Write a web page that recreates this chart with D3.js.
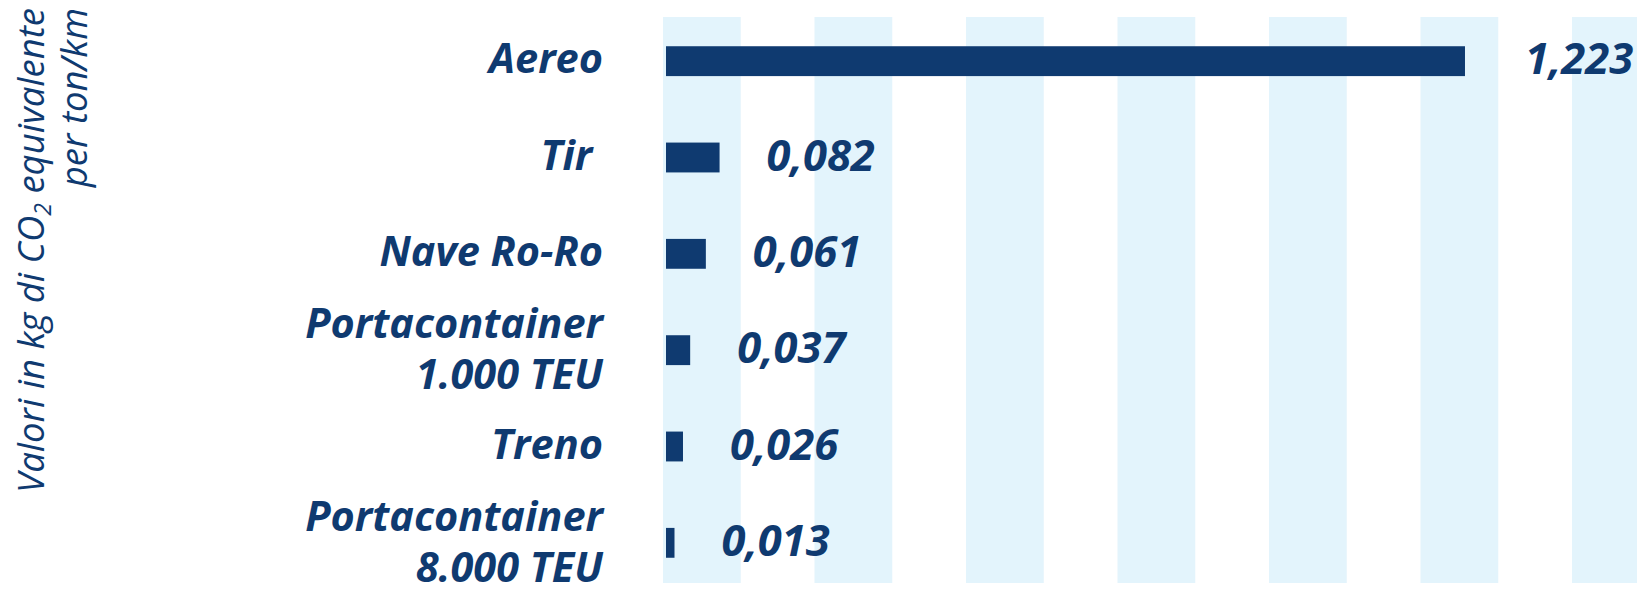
<!DOCTYPE html>
<html lang="it">
  <head>
    <meta charset="utf-8">
    <title>Emissioni CO2 per modalità di trasporto</title>
    <style>
      html, body {
        margin: 0;
        padding: 0;
        background: #fff;
      }
      svg {
        display: block;
      }
      text {
        font-family: "Open Sans", "Lato", sans-serif;
        fill: #0f3a70;
      }
    </style>
    <script src="https://d3js.org/d3.v7.min.js"></script>
  </head>
  <body>
    <script>

    // data
    const categories = ["Aereo", "Tir ", "Nave Ro-Ro", "Portacontainer\n1.000 TEU", "Treno", "Portacontainer\n8.000 TEU"]
    const values = [1.223, 0.082, 0.061, 0.037, 0.026, 0.013]
    const valueLabels = ["1,223", "0,082", "0,061", "0,037", "0,026", "0,013"]
    const axisTitle = ["Valori in kg di CO|2| equivalente", "per ton/km"]

    const width = 1637,
      height = 591

    const navy = "#0f3a70",
      band = "#e3f4fc"

    const svg = d3.select("body")
      .append("svg")
      .attr("width", width)
      .attr("height", height)

    const x = d3.scaleLinear()
      .domain([0, 1.5])
      .range([666, 666 + 1.5 * 653.3])

    const y = d3.scaleBand()
      .domain(categories)
      .range([13, 591])
      .paddingInner(0.69)
      .paddingOuter(0.345)

    // alternating light stripes behind the bars
    const stripes = d3.scaleBand()
      .domain(d3.range(13))
      .range([663, 663 + 13 * 75.75])

    svg.append("g")
      .selectAll("rect")
      .data(stripes.domain().filter(i => i % 2 == 0))
      .join("rect")
      .attr("x", d => stripes(d))
      .attr("y", 17)
      .attr("width", stripes.bandwidth() + 2)
      .attr("height", 583 - 17)
      .attr("fill", band)

    const rows = categories.map((c, i) => ({ cat: c, value: values[i], label: valueLabels[i] }))

    svg.append("g")
      .selectAll("rect")
      .data(rows)
      .join("rect")
      .attr("x", x(0))
      .attr("y", d => y(d.cat))
      .attr("width", d => x(d.value) - x(0))
      .attr("height", y.bandwidth())
      .attr("fill", navy)

    // value labels
    svg.append("g")
      .selectAll("text")
      .data(rows)
      .join("text")
      .attr("x", d => x(d.value) + (d.value > 1 ? 60 : 47))
      .attr("y", d => y(d.cat) + y.bandwidth() / 2 + 13)
      .style("font-size", "43.5px")
      .style("font-weight", "bold")
      .style("font-style", "italic")
      .text(d => d.label)

    // category labels, one or two lines
    const catLabels = svg.append("g")
      .selectAll("text")
      .data(rows)
      .join("text")
      .attr("x", 603)
      .attr("y", d => y(d.cat) + y.bandwidth() / 2)
      .attr("text-anchor", "end")
      .style("font-size", "41.5px")
      .style("font-weight", "bold")
      .style("font-style", "italic")
      .style("white-space", "pre")

    catLabels.each(function(d) {
      const lines = d.cat.split("\n")
      const t = d3.select(this)
      lines.forEach((line, j) => {
        t.append("tspan")
          .attr("x", 603)
          .attr("dy", j == 0 ? (lines.length == 1 ? 12 : -12) : 51)
          .text(line)
      })
    })

    // rotated axis title
    const title = svg.append("g")
      .attr("transform", "rotate(-90)")

    axisTitle.forEach((line, j) => {
      const t = title.append("text")
        .attr("x", -8)
        .attr("y", j == 0 ? 44 : 87)
        .attr("text-anchor", "end")
        .style("font-size", "36.5px")
        .style("font-style", "italic")
      line.split("|").forEach((part, k) => {
        t.append("tspan")
          .attr("dy", k == 1 ? 7 : (k == 2 ? -7 : 0))
          .style("font-size", k == 1 ? "23px" : null)
          .text(part)
      })
    })
    </script>
  </body>
</html>
